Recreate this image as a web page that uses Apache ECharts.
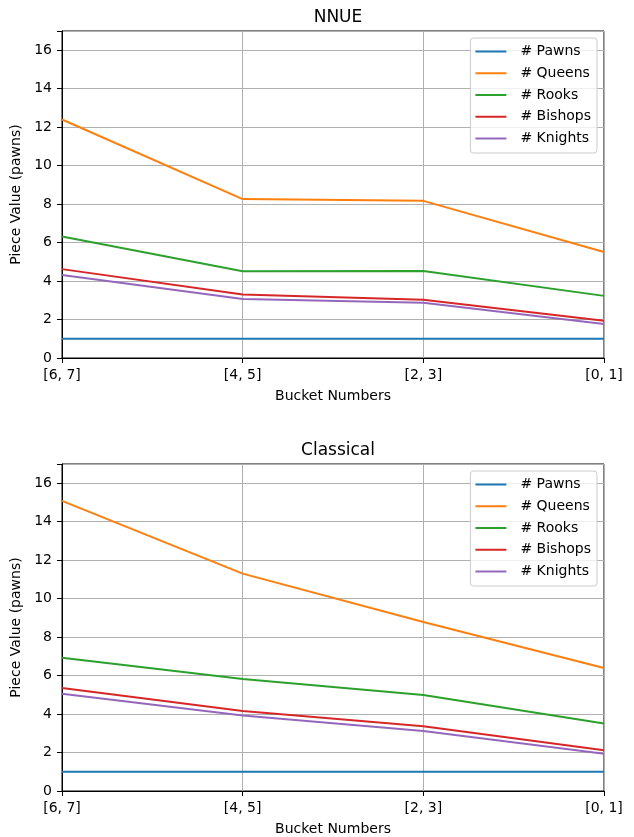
<!DOCTYPE html>
<html>
<head>
<meta charset="utf-8">
<script src="https://cdn.jsdelivr.net/npm/echarts@6/dist/echarts.min.js"></script>
<style>
  html, body { margin: 0; padding: 0; background: #fff; }
  #chart { width: 634px; height: 837px; }
</style>
</head>
<body>
<div id="chart"></div>
<script>
// buckets on the x axis
const buckets = ['[6, 7]', '[4, 5]', '[2, 3]', '[0, 1]'];
const pieces = ['# Pawns', '# Queens', '# Rooks', '# Bishops', '# Knights'];
const colors = ['#1f77b4', '#ff7f0e', '#2ca02c', '#d62728', '#9467bd'];

// NNUE piece values
const nnuePawns = [1, 1, 1, 1];
const nnueQueens = [12.40, 8.26, 8.17, 5.51];
const nnueRooks = [6.32, 4.51, 4.52, 3.23];
const nnueBishops = [4.62, 3.30, 3.03, 1.94];
const nnueKnights = [4.31, 3.07, 2.87, 1.77];

// Classical piece values
const classPawns = [1, 1, 1, 1];
const classQueens = [15.08, 11.30, 8.79, 6.39];
const classRooks = [6.93, 5.82, 4.99, 3.51];
const classBishops = [5.36, 4.16, 3.37, 2.12];
const classKnights = [5.06, 3.92, 3.12, 1.94];

const font = 'DejaVu Sans';
const fs = 14;
const panels = [
  { title: 'NNUE', top: 31, data: [nnuePawns, nnueQueens, nnueRooks, nnueBishops, nnueKnights] },
  { title: 'Classical', top: 464, data: [classPawns, classQueens, classRooks, classBishops, classKnights] }
];
const plotH = 327;

const chart = echarts.init(document.getElementById('chart'));

const option = {
  animation: false,
  backgroundColor: '#fff',
  textStyle: { fontFamily: font },
  title: panels.map(p => ({
    text: p.title,
    left: 333, top: p.top - 27, textAlign: 'center',
    textStyle: { fontFamily: font, fontSize: 17, fontWeight: 'normal', color: '#000' }
  })),
  grid: panels.map(p => ({
    left: 62, right: 30, top: p.top, height: plotH,
    show: true, borderColor: '#000', borderWidth: 1, backgroundColor: 'transparent'
  })),
  legend: panels.map(p => ({
    data: pieces,
    orient: 'vertical',
    right: 37, top: p.top + 7,
    icon: 'rect', itemWidth: 31, itemHeight: 2, itemGap: 7.75,
    padding: [6.5, 6, 7.5, 5],
    backgroundColor: 'rgba(255,255,255,0.8)',
    borderColor: '#cccccc', borderWidth: 1, borderRadius: 3,
    textStyle: { fontFamily: font, fontSize: fs, lineHeight: 14, color: '#000', padding: [0, 0, 0, 9] }
  })),
  xAxis: panels.map((p, i) => ({
    type: 'category', gridIndex: i, data: buckets, boundaryGap: false,
    name: 'Bucket Numbers', nameLocation: 'middle', nameGap: 31,
    nameTextStyle: { fontFamily: font, fontSize: fs, color: '#000' },
    axisLine: { lineStyle: { color: '#000', width: 1 } },
    axisTick: { show: true, length: 5, lineStyle: { color: '#000' } },
    axisLabel: { color: '#000', fontFamily: font, fontSize: fs, margin: 10, showMinLabel: true, showMaxLabel: true },
    splitLine: { show: true, lineStyle: { color: '#b0b0b0', width: 1 } }
  })),
  yAxis: panels.map((p, i) => ({
    type: 'value', gridIndex: i, min: 0, max: 17, interval: 2,
    name: 'Piece Value (pawns)', nameLocation: 'middle', nameGap: 37,
    nameTextStyle: { fontFamily: font, fontSize: fs, color: '#000' },
    axisLine: { show: true, lineStyle: { color: '#000', width: 1 } },
    axisTick: { show: true, length: 5, lineStyle: { color: '#000' } },
    axisLabel: {
      color: '#000', fontFamily: font, fontSize: fs, margin: 10,
      formatter: v => (v > 16 ? '' : String(v))
    },
    splitLine: { show: true, lineStyle: { color: '#b0b0b0', width: 1 } }
  })),
  series: []
};

panels.forEach((p, i) => {
  pieces.forEach((name, k) => {
    option.series.push({
      type: 'line', name: name, xAxisIndex: i, yAxisIndex: i,
      data: p.data[k], showSymbol: false, symbol: 'none',
      color: colors[k],
      lineStyle: { color: colors[k], width: 2 },
      z: 3 + k
    });
  });
});

chart.setOption(option);
</script>
</body>
</html>
